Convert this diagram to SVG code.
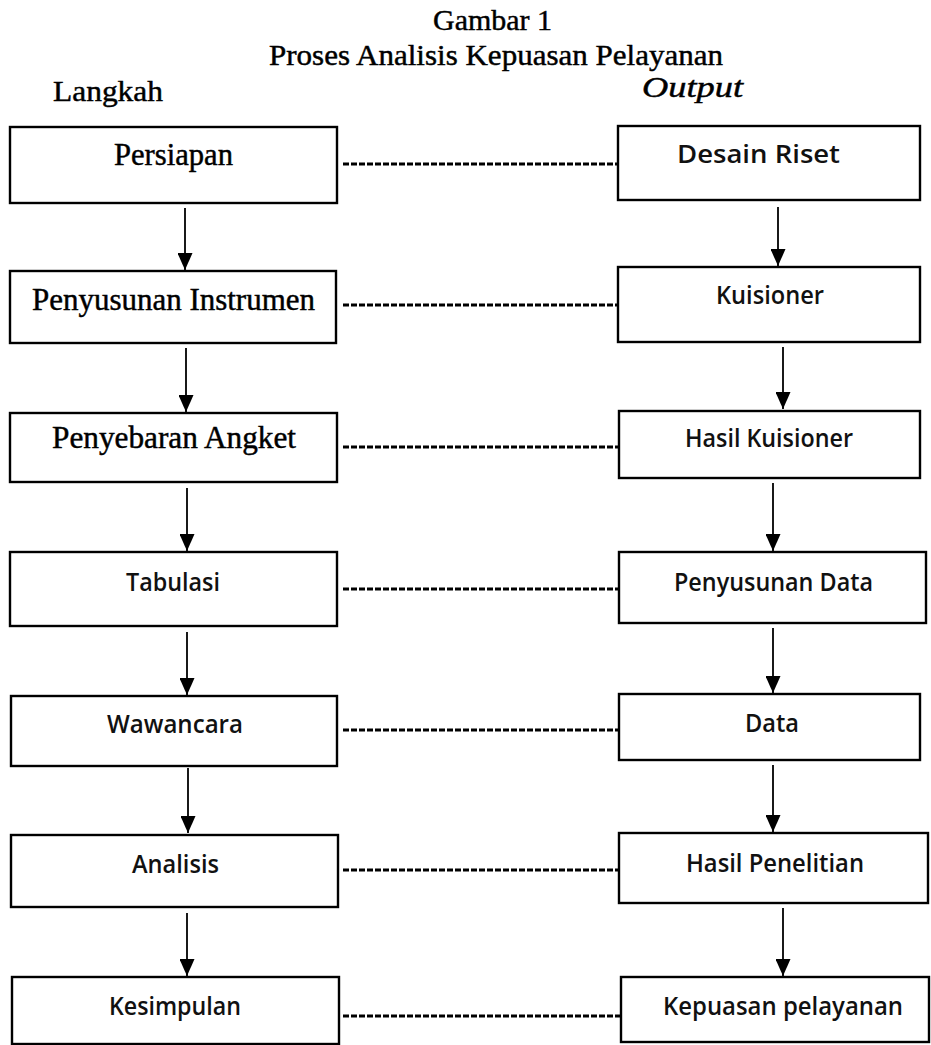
<svg xmlns="http://www.w3.org/2000/svg" width="931" height="1045" viewBox="0 0 931 1045">
<style>
.box{fill:#fff;stroke:#000;stroke-width:2.4}
.ser{font-family:"Liberation Serif","Times New Roman",serif;font-size:31px;fill:#000;stroke:#000;stroke-width:0.45}
.ttl{font-size:29px}
.san{font-family:"Open Sans","Noto Sans","Liberation Sans",sans-serif;font-size:26px;font-weight:600;fill:#111}
.arr{stroke:#000;stroke-width:1.8;fill:none;marker-end:url(#ah)}
.dash{stroke:#000;stroke-width:3;stroke-dasharray:6 2;fill:none}
</style>
<defs>
<marker id="ah" markerUnits="userSpaceOnUse" markerWidth="17" markerHeight="15" viewBox="0 0 17 15" refX="17" refY="7.5" orient="auto">
<path d="M0,0 L17,7.5 L0,15 z" fill="#000"/>
</marker>
</defs>
<rect width="931" height="1045" fill="#fff"/>
<g id="title">
<text class="ser ttl" x="433" y="30" textLength="119" lengthAdjust="spacingAndGlyphs">Gambar 1</text>
<text class="ser ttl" x="269" y="65" textLength="454" lengthAdjust="spacingAndGlyphs">Proses Analisis Kepuasan Pelayanan</text>
<text class="ser ttl" x="53" y="101" textLength="110" lengthAdjust="spacingAndGlyphs">Langkah</text>
<text class="ser ttl" x="642" y="97" textLength="101" lengthAdjust="spacingAndGlyphs" font-style="italic">Output</text>
</g>
<g id="connectors">
<line class="arr" x1="185" y1="208" x2="185" y2="270"/>
<line class="arr" x1="186" y1="348" x2="186" y2="412"/>
<line class="arr" x1="187" y1="488" x2="187" y2="551"/>
<line class="arr" x1="187" y1="632" x2="187" y2="695"/>
<line class="arr" x1="188" y1="768" x2="188" y2="833"/>
<line class="arr" x1="187" y1="913" x2="187" y2="976"/>
<line class="arr" x1="778" y1="207" x2="778" y2="266"/>
<line class="arr" x1="783" y1="347" x2="783" y2="409"/>
<line class="arr" x1="773" y1="483" x2="773" y2="551"/>
<line class="arr" x1="773" y1="628" x2="773" y2="693"/>
<line class="arr" x1="773" y1="765" x2="773" y2="832"/>
<line class="arr" x1="783" y1="908" x2="783" y2="976"/>
<line class="dash" x1="343" y1="164" x2="618" y2="164"/>
<line class="dash" x1="343" y1="305" x2="618" y2="305"/>
<line class="dash" x1="343" y1="447" x2="619" y2="447"/>
<line class="dash" x1="343" y1="589" x2="619" y2="589"/>
<line class="dash" x1="343" y1="730" x2="619" y2="730"/>
<line class="dash" x1="343" y1="870" x2="619" y2="870"/>
<line class="dash" x1="343" y1="1016" x2="621" y2="1016"/>
</g>
<g id="persiapan"><rect class="box" x="10" y="127" width="327" height="76"/><text class="ser" x="114" y="165" textLength="119" lengthAdjust="spacingAndGlyphs">Persiapan</text></g>
<g id="penyusunan-instrumen"><rect class="box" x="10" y="271" width="326" height="72"/><text class="ser" x="32" y="310" textLength="283" lengthAdjust="spacingAndGlyphs">Penyusunan Instrumen</text></g>
<g id="penyebaran-angket"><rect class="box" x="10" y="413" width="327" height="69"/><text class="ser" x="52" y="448" textLength="244" lengthAdjust="spacingAndGlyphs">Penyebaran Angket</text></g>
<g id="tabulasi"><rect class="box" x="10" y="552" width="327" height="74"/><text class="san" x="126" y="591" textLength="94" lengthAdjust="spacingAndGlyphs">Tabulasi</text></g>
<g id="wawancara"><rect class="box" x="11" y="696" width="326" height="70"/><text class="san" x="107" y="733" textLength="136" lengthAdjust="spacingAndGlyphs">Wawancara</text></g>
<g id="analisis"><rect class="box" x="11" y="835" width="327" height="72"/><text class="san" x="132" y="873" textLength="87" lengthAdjust="spacingAndGlyphs">Analisis</text></g>
<g id="kesimpulan"><rect class="box" x="12" y="977" width="327" height="67"/><text class="san" x="109" y="1015" textLength="132" lengthAdjust="spacingAndGlyphs">Kesimpulan</text></g>
<g id="desain-riset"><rect class="box" x="618" y="126" width="302" height="74"/><text class="san" x="677" y="163" textLength="163" lengthAdjust="spacingAndGlyphs">Desain Riset</text></g>
<g id="kuisioner"><rect class="box" x="618" y="267" width="302" height="75"/><text class="san" x="716" y="304" textLength="108" lengthAdjust="spacingAndGlyphs">Kuisioner</text></g>
<g id="hasil-kuisioner"><rect class="box" x="619" y="411" width="301" height="67"/><text class="san" x="685" y="447" textLength="168" lengthAdjust="spacingAndGlyphs">Hasil Kuisioner</text></g>
<g id="penyusunan-data"><rect class="box" x="619" y="552" width="307" height="71"/><text class="san" x="674" y="591" textLength="199" lengthAdjust="spacingAndGlyphs">Penyusunan Data</text></g>
<g id="data"><rect class="box" x="619" y="694" width="301" height="66"/><text class="san" x="745" y="732" textLength="54" lengthAdjust="spacingAndGlyphs">Data</text></g>
<g id="hasil-penelitian"><rect class="box" x="619" y="833" width="309" height="70"/><text class="san" x="686" y="872" textLength="178" lengthAdjust="spacingAndGlyphs">Hasil Penelitian</text></g>
<g id="kepuasan-pelayanan"><rect class="box" x="621" y="977" width="308" height="65"/><text class="san" x="663" y="1015" textLength="240" lengthAdjust="spacingAndGlyphs">Kepuasan pelayanan</text></g>
</svg>
